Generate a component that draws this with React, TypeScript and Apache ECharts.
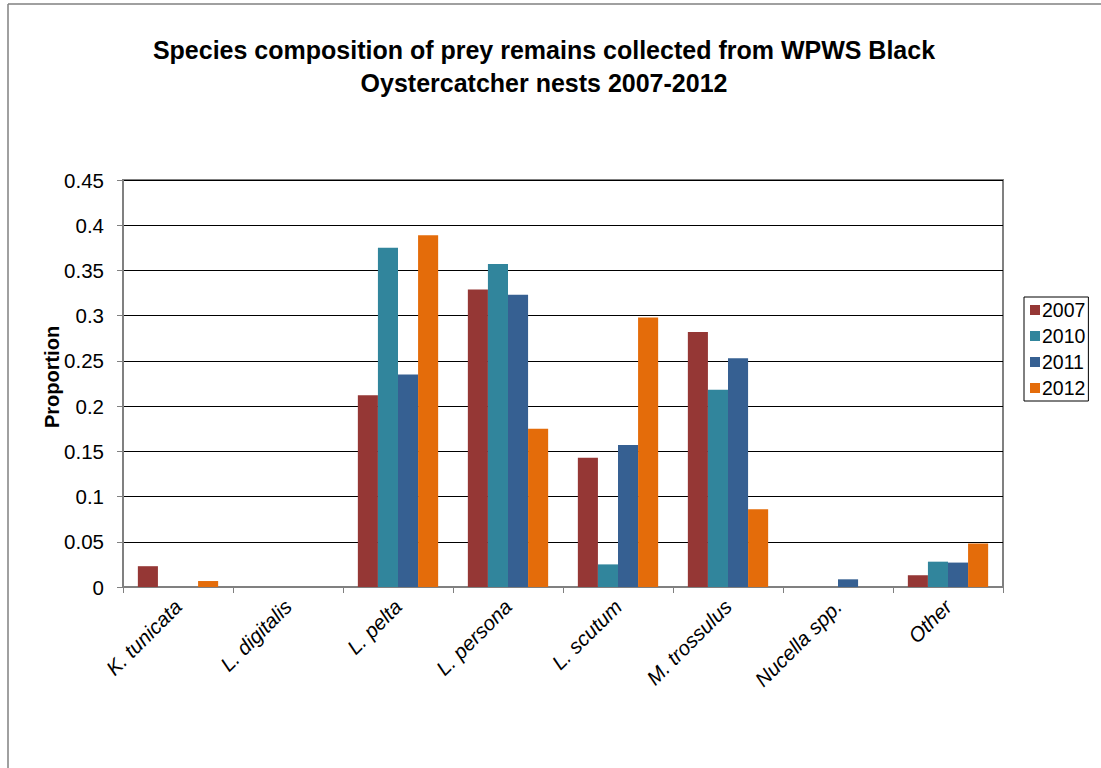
import React, { useEffect, useRef } from "react";
import * as echarts from "echarts";

const categories = ["K. tunicata", "L. digitalis", "L. pelta", "L. persona", "L. scutum", "M. trossulus", "Nucella spp.", "Other"];
const years = ["2007", "2010", "2011", "2012"];
const v2007 = [0.023, 0, 0.212, 0.329, 0.143, 0.282, 0, 0.013];
const v2010 = [0, 0, 0.375, 0.357, 0.025, 0.218, 0, 0.028];
const v2011 = [0, 0, 0.235, 0.323, 0.157, 0.253, 0.0085, 0.027];
const v2012 = [0.0066, 0, 0.389, 0.175, 0.298, 0.086, 0, 0.048];
const colors = ["#953735", "#31859C", "#366092", "#E46C0A"];
const yTicks = { min: 0, max: 0.45, interval: 0.05 };

export default function App() {
  const ref = useRef<HTMLDivElement>(null);
  useEffect(() => {
    if (!ref.current) return;
    const chart = echarts.init(ref.current, null, { renderer: "svg" });
    const all = [v2007, v2010, v2011, v2012];
    chart.setOption({
      animation: false,
      backgroundColor: "#ffffff",
      textStyle: { fontFamily: "Liberation Sans, Arial, sans-serif" },
      title: {
        text: "Species composition of prey remains collected from WPWS Black\nOystercatcher nests 2007-2012",
        left: 539,
        top: 28,
        textAlign: "center",
        textStyle: { fontSize: 25, fontWeight: "bold", color: "#000", lineHeight: 33, fontFamily: "Liberation Sans, Arial, sans-serif" },
      },
      graphic: [
        { type: "line", shape: { x1: 8, y1: 4, x2: 1101, y2: 4 }, style: { stroke: "#808080", lineWidth: 1.5 } },
        { type: "line", shape: { x1: 8, y1: 4, x2: 8, y2: 768 }, style: { stroke: "#808080", lineWidth: 1.5 } },
        {
          type: "text",
          x: 52,
          y: 377,
          rotation: Math.PI / 2,
          style: {
            text: "Proportion",
            align: "center",
            verticalAlign: "middle",
            fill: "#000",
            font: "bold 20px 'Liberation Sans', Arial, sans-serif",
          },
        },
      ],
      legend: {
        orient: "vertical",
        left: 1024,
        top: 297,
        data: years,
        itemWidth: 10,
        itemHeight: 10,
        itemGap: 6,
        padding: [3, 3, 3, 6],
        borderColor: "#000",
        borderWidth: 1,
        icon: "rect",
        textStyle: { fontSize: 19.5, color: "#000", padding: [0, 0, 0, -3] },
      },
      grid: {
        left: 123,
        right: 98,
        top: 180,
        bottom: 181,
        show: true,
        borderColor: "#808080",
        borderWidth: 2,
      },
      xAxis: {
        type: "category",
        data: categories,
        axisLine: { lineStyle: { color: "#808080", width: 2 } },
        axisTick: { show: true, length: 6, lineStyle: { color: "#808080" } },
        axisLabel: {
          rotate: 45,
          interval: 0,
          margin: 16,
          fontSize: 20.5,
          fontStyle: "italic",
          color: "#000",
        },
      },
      yAxis: {
        type: "value",
        min: yTicks.min,
        max: yTicks.max,
        interval: yTicks.interval,
        axisLine: { show: true, lineStyle: { color: "#808080", width: 2 } },
        axisTick: { show: true, length: 6, lineStyle: { color: "#808080" } },
        axisLabel: { fontSize: 20.5, color: "#000", margin: 19 },
        splitLine: { lineStyle: { color: "#000", width: 1 } },
      },
      series: years.map((y, i) => ({
        name: y,
        type: "bar",
        data: all[i],
        barGap: "0%",
        barCategoryGap: "27%",
        itemStyle: { color: colors[i] },
      })),
    });
    return () => chart.dispose();
  }, []);
  return <div ref={ref} style={{ position: "fixed", left: 0, top: 0, width: 1101, height: 768 }} />;
}
